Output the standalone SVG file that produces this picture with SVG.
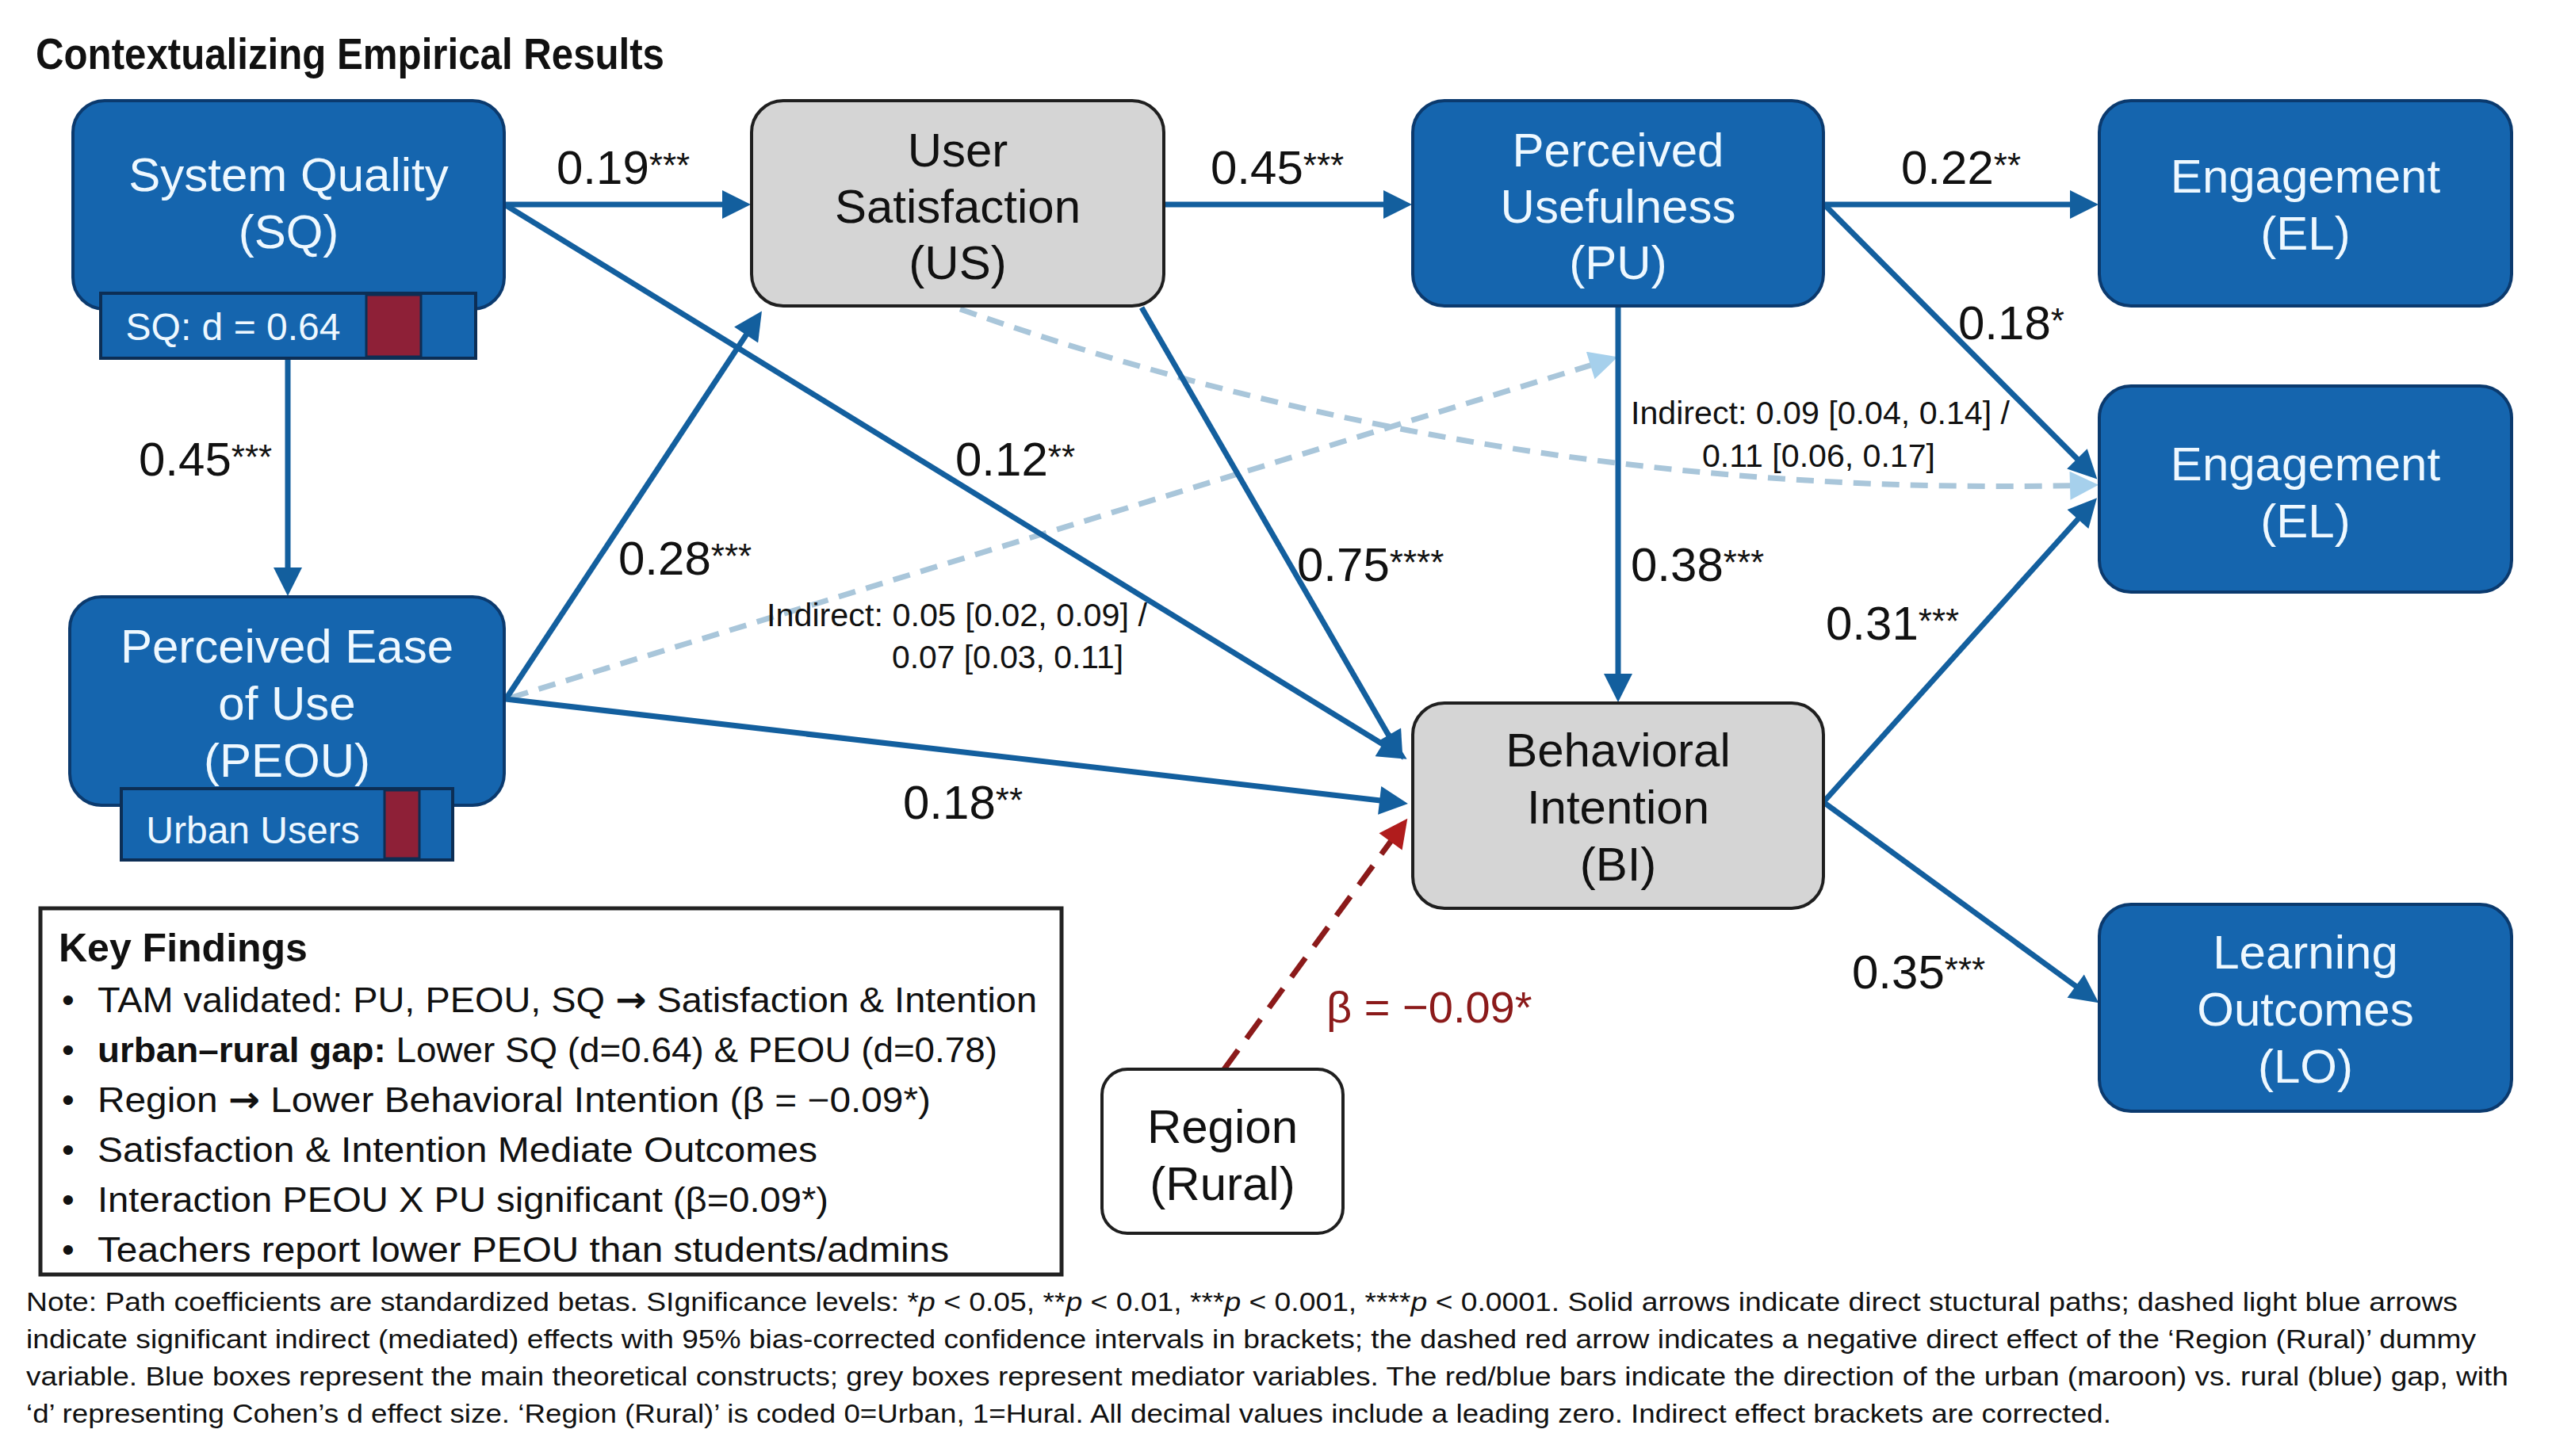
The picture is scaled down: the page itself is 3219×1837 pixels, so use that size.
<svg xmlns="http://www.w3.org/2000/svg" width="3219" height="1837" viewBox="0 0 3219 1837">
<style>
text { font-family: "Liberation Sans", Arial, sans-serif; }
.blue { fill:#1565ae; stroke:#0b3a6e; stroke-width:4; }
.grey { fill:#d5d5d5; stroke:#1f1f1f; stroke-width:4; }
.white { fill:#ffffff; stroke:#1f1f1f; stroke-width:4; }
.nt { font-size:60px; text-anchor:middle; }
.wt { fill:#eef8ff; }
.bt { fill:#111111; }
.lbl { font-size:60px; fill:#111111; }
.star { font-size:44px; }
.ind { font-size:40px; fill:#111111; }
.edge { fill:none; stroke:#135f9e; stroke-width:7; marker-end:url(#ah); }
.dash { fill:none; stroke:#a9c6da; stroke-width:7; stroke-dasharray:22 14; marker-end:url(#ahl); }
.red { fill:none; stroke:#8b1a1a; stroke-width:7; stroke-dasharray:30 18; marker-end:url(#ahr); }
.kf { font-size:45px; fill:#111111; }
.arr { font-family:"DejaVu Sans", sans-serif; font-weight:bold; }
.note { font-size:33px; fill:#111111; }
.bar { fill:#1565ae; stroke:#0c2e55; stroke-width:4; }
.maroon { fill:#8e2037; stroke:#0c2e55; stroke-width:3; }
.bart { font-size:48px; fill:#eef8ff; text-anchor:middle; }
</style>
<defs>
<marker id="ah" viewBox="0 0 10 10" refX="7.5" refY="5" markerWidth="40" markerHeight="36" markerUnits="userSpaceOnUse" orient="auto"><path d="M0,0 L10,5 L0,10 z" fill="#135f9e"/></marker>
<marker id="ahl" viewBox="0 0 10 10" refX="7.5" refY="5" markerWidth="40" markerHeight="36" markerUnits="userSpaceOnUse" orient="auto"><path d="M0,0 L10,5 L0,10 z" fill="#a6d0ec"/></marker>
<marker id="ahr" viewBox="0 0 10 10" refX="7.5" refY="5" markerWidth="40" markerHeight="36" markerUnits="userSpaceOnUse" orient="auto"><path d="M0,0 L10,5 L0,10 z" fill="#b01c1c"/></marker>
</defs>
<rect x="0" y="0" width="3219" height="1837" fill="#ffffff"/>

<text x="45" y="87" font-size="56" font-weight="bold" fill="#111111" textLength="793" lengthAdjust="spacingAndGlyphs">Contextualizing Empirical Results</text>

<g id="connectors">
  <path class="dash" d="M1211,390 Q1900,632 2638,612"/>
  <path class="dash" d="M645,880 L2032,453"/>
  <path class="edge" d="M636,258 L938,258"/>
  <path class="edge" d="M363,452 L363,743"/>
  <path class="edge" d="M638,259 L1767,953"/>
  <path class="edge" d="M638,882 L956,400"/>
  <path class="edge" d="M638,882 L1767,1013"/>
  <path class="edge" d="M1440,388 L1765,951"/>
  <path class="edge" d="M1468,258 L1772,258"/>
  <path class="edge" d="M2300,258 L2638,258"/>
  <path class="edge" d="M2302,259 L2639,598"/>
  <path class="edge" d="M2041,386 L2041,877"/>
  <path class="edge" d="M2300,1012 L2639,635"/>
  <path class="edge" d="M2300,1012 L2640,1260"/>
  <path class="red" d="M1544,1349 L1770,1040"/>

  <text class="lbl" x="702" y="232">0.19<tspan class="star" dy="-8">***</tspan></text>
  <text class="lbl" x="175" y="600">0.45<tspan class="star" dy="-8">***</tspan></text>
  <text class="lbl" x="1205" y="600">0.12<tspan class="star" dy="-8">**</tspan></text>
  <text class="lbl" x="780" y="725">0.28<tspan class="star" dy="-8">***</tspan></text>
  <text class="lbl" x="1139" y="1033">0.18<tspan class="star" dy="-8">**</tspan></text>
  <text class="lbl" x="1636" y="733">0.75<tspan class="star" dy="-8">****</tspan></text>
  <text class="lbl" x="1527" y="232">0.45<tspan class="star" dy="-8">***</tspan></text>
  <text class="lbl" x="2398" y="232">0.22<tspan class="star" dy="-8">**</tspan></text>
  <text class="lbl" x="2470" y="428">0.18<tspan class="star" dy="-8">*</tspan></text>
  <text class="lbl" x="2057" y="733">0.38<tspan class="star" dy="-8">***</tspan></text>
  <text class="lbl" x="2303" y="807">0.31<tspan class="star" dy="-8">***</tspan></text>
  <text class="lbl" x="2336" y="1247">0.35<tspan class="star" dy="-8">***</tspan></text>
  <text x="1673" y="1290" font-size="56" fill="#8b1a1a">β = −0.09*</text>
  <text class="ind" x="2057" y="535" textLength="478" lengthAdjust="spacingAndGlyphs">Indirect: 0.09 [0.04, 0.14] /</text>
  <text class="ind" x="2147" y="589" textLength="294" lengthAdjust="spacingAndGlyphs">0.11 [0.06, 0.17]</text>
  <text class="ind" x="967" y="790" textLength="480" lengthAdjust="spacingAndGlyphs">Indirect: 0.05 [0.02, 0.09] /</text>
  <text class="ind" x="1125" y="843" textLength="292" lengthAdjust="spacingAndGlyphs">0.07 [0.03, 0.11]</text>
</g>

<g id="node-sq">
  <rect class="blue" x="92" y="127" width="544" height="263" rx="40"/>
  <text class="nt wt" x="364" y="241">System Quality</text>
  <text class="nt wt" x="364" y="313">(SQ)</text>
  <rect class="bar" x="127" y="370" width="473" height="82"/>
  <rect class="maroon" x="462" y="372" width="69" height="78"/>
  <text class="bart" x="294" y="429">SQ: d = 0.64</text>
</g>

<g id="node-us">
  <rect class="grey" x="948" y="127" width="520" height="259" rx="40"/>
  <text class="nt bt" x="1208" y="210">User</text>
  <text class="nt bt" x="1208" y="281">Satisfaction</text>
  <text class="nt bt" x="1208" y="352">(US)</text>
</g>

<g id="node-pu">
  <rect class="blue" x="1782" y="127" width="518" height="259" rx="40"/>
  <text class="nt wt" x="2041" y="210">Perceived</text>
  <text class="nt wt" x="2041" y="281">Usefulness</text>
  <text class="nt wt" x="2041" y="352">(PU)</text>
</g>

<g id="node-el1">
  <rect class="blue" x="2648" y="127" width="520" height="259" rx="40"/>
  <text class="nt wt" x="2908" y="243">Engagement</text>
  <text class="nt wt" x="2908" y="315">(EL)</text>
</g>

<g id="node-el2">
  <rect class="blue" x="2648" y="487" width="520" height="260" rx="40"/>
  <text class="nt wt" x="2908" y="606">Engagement</text>
  <text class="nt wt" x="2908" y="678">(EL)</text>
</g>

<g id="node-peou">
  <rect class="blue" x="88" y="753" width="548" height="263" rx="40"/>
  <text class="nt wt" x="362" y="836">Perceived Ease</text>
  <text class="nt wt" x="362" y="908">of Use</text>
  <text class="nt wt" x="362" y="980">(PEOU)</text>
  <rect class="bar" x="153" y="995" width="418" height="90"/>
  <rect class="maroon" x="485" y="997" width="44" height="86"/>
  <text class="bart" x="319" y="1064">Urban Users</text>
</g>

<g id="node-bi">
  <rect class="grey" x="1782" y="887" width="518" height="259" rx="40"/>
  <text class="nt bt" x="2041" y="967">Behavioral</text>
  <text class="nt bt" x="2041" y="1039">Intention</text>
  <text class="nt bt" x="2041" y="1111">(BI)</text>
</g>

<g id="node-lo">
  <rect class="blue" x="2648" y="1141" width="520" height="261" rx="40"/>
  <text class="nt wt" x="2908" y="1222">Learning</text>
  <text class="nt wt" x="2908" y="1294">Outcomes</text>
  <text class="nt wt" x="2908" y="1366">(LO)</text>
</g>

<g id="node-region">
  <rect class="white" x="1390" y="1349" width="304" height="207" rx="32"/>
  <text class="nt bt" x="1542" y="1442">Region</text>
  <text class="nt bt" x="1542" y="1514">(Rural)</text>
</g>

<g id="key-findings">
  <rect x="51" y="1146" width="1288" height="462" fill="#ffffff" stroke="#222222" stroke-width="5"/>
  <text x="74" y="1213" font-size="50" font-weight="bold" fill="#111111">Key Findings</text>
  <text class="kf" x="78" y="1277">•</text>
  <text class="kf" x="123" y="1277" textLength="1185" lengthAdjust="spacingAndGlyphs">TAM validated: PU, PEOU, SQ <tspan class="arr">→</tspan> Satisfaction &amp; Intention</text>
  <text class="kf" x="78" y="1340">•</text>
  <text class="kf" x="123" y="1340" textLength="1135" lengthAdjust="spacingAndGlyphs"><tspan font-weight="bold">urban–rural gap:</tspan> Lower SQ (d=0.64) &amp; PEOU (d=0.78)</text>
  <text class="kf" x="78" y="1403">•</text>
  <text class="kf" x="123" y="1403" textLength="1051" lengthAdjust="spacingAndGlyphs">Region <tspan class="arr">→</tspan> Lower Behavioral Intention (β = −0.09*)</text>
  <text class="kf" x="78" y="1466">•</text>
  <text class="kf" x="123" y="1466" textLength="908" lengthAdjust="spacingAndGlyphs">Satisfaction &amp; Intention Mediate Outcomes</text>
  <text class="kf" x="78" y="1529">•</text>
  <text class="kf" x="123" y="1529" textLength="922" lengthAdjust="spacingAndGlyphs">Interaction PEOU X PU significant (β=0.09*)</text>
  <text class="kf" x="78" y="1592">•</text>
  <text class="kf" x="123" y="1592" textLength="1074" lengthAdjust="spacingAndGlyphs">Teachers report lower PEOU than students/admins</text>
</g>

<g id="note">
  <text class="note" x="33" y="1654" textLength="3067" lengthAdjust="spacingAndGlyphs">Note: Path coefficients are standardized betas. SIgnificance levels: *<tspan font-style="italic">p</tspan> &lt; 0.05, **<tspan font-style="italic">p</tspan> &lt; 0.01, ***<tspan font-style="italic">p</tspan> &lt; 0.001, ****<tspan font-style="italic">p</tspan> &lt; 0.0001. Solid arrows indicate direct stuctural paths; dashed light blue arrows</text>
  <text class="note" x="33" y="1701" textLength="3090" lengthAdjust="spacingAndGlyphs">indicate significant indirect (mediated) effects with 95% bias-corrected confidence intervals in brackets; the dashed red arrow indicates a negative direct effect of the ‘Region (Rural)’ dummy</text>
  <text class="note" x="33" y="1748" textLength="3131" lengthAdjust="spacingAndGlyphs">variable. Blue boxes represent the main theoretical constructs; grey boxes represent mediator variables. The red/blue bars indicate the direction of the urban (maroon) vs. rural (blue) gap, with</text>
  <text class="note" x="33" y="1795" textLength="2630" lengthAdjust="spacingAndGlyphs">‘d’ representing Cohen’s d effect size. ‘Region (Rural)’ is coded 0=Urban, 1=Hural. All decimal values include a leading zero. Indirect effect brackets are corrected.</text>
</g>
</svg>
